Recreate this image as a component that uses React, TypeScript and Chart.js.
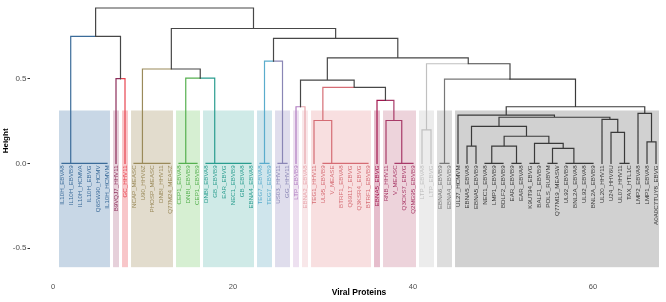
import React, { useEffect, useRef } from "react";
import { Chart, registerables } from "chart.js";

Chart.register(...registerables);

// ---------- data ----------
const LEAF_LABELS = [
  "IL10H_EBVA8", "IL10H_EBVB9", "IL10H_HCMVA", "IL10H_EBVG", "Q6SW90_HCMV", "IL10H_HCMVM",
  "B9VQJ7_HHV11", "GC_HHV11",
  "NCAP_MEASC", "U90_HHV6Z", "PHOSP_MEASC", "DNBI_HHV11", "Q77M24_MEASZ",
  "CEP1_EBVA8", "DNBI_EBVB9", "CEP1_EBVB9",
  "DNBI_EBVA8", "GB_EBVB9", "EAR_EBVG", "NEC1_EBVB9", "GB_EBVA8", "EBNA4_EBVA8",
  "TEG7_EBVA8", "TEG7_EBVB9",
  "US03_HHV11", "GG_HHV11",
  "LTP_EBVB9", "EBNA2_EBVA8",
  "TEG1_HHV11", "UL95_EBVB9", "V_MEASE", "BTRF1_EBVA8", "Q69117_EBVG", "Q3KSR4_EBVG", "BTRF1_EBVB9",
  "EBNA5_EBVG",
  "RNB_HHV11", "V_MEASC", "Q3CKS7_EBVG", "Q2MG95_EBVB9",
  "LTP_EBVA8", "LTP_EBVG",
  "EBNA6_EBVB9", "EBNA4_EBVB9",
  "UL27_HCMVM", "EBNA5_EBVA8", "EBNA5_EBVB9", "NEC1_EBVA8", "LMP1_EBVB9", "BDLF2_EBVB9",
  "EAR_EBVB9", "EAR_EBVA8", "K9UT94_EBVG", "BALF1_EBVB9", "POLS_RUBVM", "Q77M19_MEASW",
  "UL92_EBVB9", "BNL2A_EBVA8", "UL92_EBVA8", "BNL2A_EBVB9", "UL20_HHV11", "U24_HHV6U",
  "UL07_HHV11", "TAX_HTL1C", "LMP2_EBVA8", "LMP1_EBVA8", "A0A0C7TUY8_EBVG",
];

// hclust-style merges: negative = leaf number, positive = earlier merge number
const MERGE_A = [
  -5, -4, -3, -2, -1, -7, 5,
  -12, -11, -10, -9, -15, -14, -21, -20, -19, -18, -17, 13, 11,
  -23, -25, 21, -27, -34, -33, -32, -31, -30, -29, -39, -38, -37, -36, 30, 24,
  -41, -43, -46, -49, -48, -51, 41, -53, -55, -59, -58, -57, 45, 44, 43, 39,
  -63, -62, -61, 52, -45, -66, -65, 57, 38, 37, 36, 23, 20, 7,
];
const MERGE_B = [
  -6, 1, 2, 3, 4, -8, 6,
  -13, 8, 9, 10, -16, 12, -22, 14, 15, 16, 17, 18, 19,
  -24, -26, 22, -28, -35, 25, 26, 27, 28, 29, -40, 31, 32, 33, 34, 35,
  -42, -44, -47, -50, 40, -52, 42, -54, -56, -60, 46, 47, 48, 49, 50, 51,
  -64, 53, 54, 55, 56, -67, 58, 59, 60, 61, 62, 63, 64, 65,
];
const MERGE_HEIGHT = [
  0, 0, 0, 0, 0, 0.5, 0.75,
  0, 0, 0, 0, 0, 0, 0, 0, 0, 0, 0, 0.503, 0.557,
  0, 0, 0.603, 0.334, 0, 0, 0, 0, 0, 0.253, 0, 0, 0.253, 0.372, 0.449, 0.491,
  0.198, 0, 0.102, 0, 0, 0, 0.102, 0, 0, 0, 0, 0, 0.088, 0.118, 0.16, 0.218,
  0, 0.183, 0.26, 0.272, 0.285, 0.127, 0.295, 0.334, 0.497, 0.588, 0.623, 0.738, 0.796, 0.917,
];

const CLUSTER_FIRST = [1, 7, 8, 9, 14, 17, 23, 25, 27, 28, 29, 36, 37, 41, 43, 45];
const CLUSTER_LAST = [6, 7, 8, 13, 16, 22, 24, 26, 27, 28, 35, 36, 40, 42, 44, 67];
const CLUSTER_LINE = [
  "#3b6b99", "#8c2d5a", "#e8434f", "#9a8a5a", "#55b04f", "#2a9d8f", "#5aaccc", "#8a86b5",
  "#b07cc0", "#e8a6ad", "#d56c74", "#a2174f", "#a83a68", "#c0c0c0", "#777777", "#3a3a3a",
];
const CLUSTER_FILL = [
  "#c8d7e6", "#e6d0da", "#f8c6c9", "#e2dccd", "#d6efd2", "#cfeae7", "#cfe5ec", "#dfddec",
  "#ede0f0", "#f8e7e9", "#f8dfe0", "#e6bdcc", "#edd3db", "#ececec", "#dddddd", "#d1d1d1",
];
const UPPER_COLOR = "#474747";
const BAND_TOP = 0.312;
const BAND_BOTTOM = -0.613;
const X_TICKS = [0, 20, 40, 60];
const Y_TICKS = [-0.5, 0, 0.5];
const X_TITLE = "Viral Proteins";
const Y_TITLE = "Height";

const FONT = "'Liberation Sans', Arial, Helvetica, sans-serif";

// ---------- layout of the dendrogram ----------
function leafCluster(i: number) {
  return CLUSTER_FIRST.findIndex((f, k) => i >= f && i <= CLUSTER_LAST[k]);
}

function buildSegments() {
  const nodeX: number[] = [];
  const nodeH: number[] = [];
  const nodeCl: number[] = [];
  const info = (ref: number) => {
    if (ref < 0) return { x: -ref, h: 0, cl: leafCluster(-ref) };
    const k = ref - 1;
    return { x: nodeX[k], h: nodeH[k], cl: nodeCl[k] };
  };
  const groups: any[][] = CLUSTER_FIRST.map(() => []);
  const upper: any[] = [];
  for (let k = 0; k < MERGE_HEIGHT.length; k++) {
    const a = info(MERGE_A[k]);
    const b = info(MERGE_B[k]);
    nodeX[k] = (a.x + b.x) / 2;
    nodeH[k] = MERGE_HEIGHT[k];
    nodeCl[k] = a.cl === b.cl ? a.cl : -1;
    for (const c of [a, b]) {
      const target = c.cl >= 0 ? groups[c.cl] : upper;
      target.push(
        { x: nodeX[k], y: nodeH[k] },
        { x: c.x, y: nodeH[k] },
        { x: c.x, y: c.h },
        { x: c.x, y: null }
      );
    }
  }
  return { groups, upper };
}

export default function App() {
  const ref = useRef<HTMLCanvasElement | null>(null);

  useEffect(() => {
    if (!ref.current) return;
    const { groups, upper } = buildSegments();

    const lineDs = (data: any[], color: string) => ({
      type: "line" as const,
      data,
      borderColor: color,
      backgroundColor: color,
      borderWidth: 1.2,
      pointRadius: 0,
      pointHoverRadius: 0,
      spanGaps: false,
      tension: 0,
      fill: false,
      borderJoinStyle: "miter" as const,
      borderCapStyle: "square" as const,
    });

    const datasets = [
      lineDs(upper, UPPER_COLOR),
      ...groups.map((g, i) => lineDs(g, CLUSTER_LINE[i])),
    ];

    const bandsPlugin = {
      id: "bands",
      beforeDatasetsDraw(chart: any) {
        const { ctx, scales } = chart;
        const xs = scales.x;
        const ys = scales.y;
        ctx.save();
        CLUSTER_FIRST.forEach((f, i) => {
          const x0 = xs.getPixelForValue(f - 0.33);
          const x1 = xs.getPixelForValue(CLUSTER_LAST[i] + 0.33);
          const y0 = ys.getPixelForValue(BAND_TOP);
          const y1 = ys.getPixelForValue(BAND_BOTTOM);
          ctx.fillStyle = CLUSTER_FILL[i];
          ctx.fillRect(x0, y0, x1 - x0, y1 - y0);
        });
        ctx.restore();
      },
      afterDatasetsDraw(chart: any) {
        const { ctx, scales } = chart;
        const xs = scales.x;
        const ys = scales.y;
        ctx.save();
        ctx.font = `6.2px ${FONT}`;
        ctx.textAlign = "right";
        ctx.textBaseline = "middle";
        LEAF_LABELS.forEach((lab, i) => {
          const leaf = i + 1;
          const px = xs.getPixelForValue(leaf);
          const py = ys.getPixelForValue(-0.012);
          ctx.save();
          ctx.translate(px, py);
          ctx.rotate(-Math.PI / 2);
          ctx.fillStyle = CLUSTER_LINE[leafCluster(leaf)];
          ctx.fillText(lab, 0, 0);
          ctx.restore();
        });
        ctx.restore();
      },
      afterDraw(chart: any) {
        const { ctx } = chart;
        ctx.save();
        ctx.font = `bold 8.5px ${FONT}`;
        ctx.fillStyle = "#000";
        ctx.textAlign = "center";
        ctx.textBaseline = "middle";
        ctx.fillText(X_TITLE, 359, 293);
        ctx.restore();
      },
    };

    const chart = new Chart(ref.current, {
      type: "line",
      data: { datasets },
      options: {
        animation: false,
        responsive: false,
        maintainAspectRatio: false,
        layout: { padding: 0 },
        plugins: { legend: { display: false }, tooltip: { enabled: false } },
        events: [],
        scales: {
          x: {
            type: "linear",
            min: -2.556,
            max: 68.11,
            afterBuildTicks: (s: any) => {
              s.ticks = X_TICKS.map((v) => ({ value: v }));
            },
            afterFit: (s: any) => {
              s.height = 26;
            },
            grid: { display: false, drawTicks: false },
            border: { display: false },
            ticks: {
              font: { size: 7.5, family: FONT },
              color: "#4d4d4d",
              padding: 6,
              maxRotation: 0,
              autoSkip: false,
            },
          },
          y: {
            type: "linear",
            min: -0.665,
            max: 0.93,
            afterBuildTicks: (s: any) => {
              s.ticks = Y_TICKS.map((v) => ({ value: v }));
            },
            afterFit: (s: any) => {
              s.width = 30;
            },
            grid: {
              display: true,
              drawOnChartArea: false,
              drawTicks: true,
              tickLength: 2.5,
              color: "#333333",
              lineWidth: 1,
            },
            border: { display: false },
            ticks: {
              font: { size: 8, family: FONT },
              color: "#4d4d4d",
              padding: 1,
              callback: (v: any) => Number(v).toFixed(1),
            },
            title: {
              display: true,
              text: Y_TITLE,
              color: "#000",
              font: { size: 8, weight: "bold", family: FONT },
              padding: { top: 1, bottom: 0 },
            },
          },
        },
      },
      plugins: [bandsPlugin],
    } as any);

    return () => chart.destroy();
  }, []);

  return (
    <div style={{ position: "absolute", left: 0, top: 0, width: 666, height: 302, background: "#fff" }}>
      <canvas ref={ref} width={666} height={302} style={{ display: "block" }} />
    </div>
  );
}
